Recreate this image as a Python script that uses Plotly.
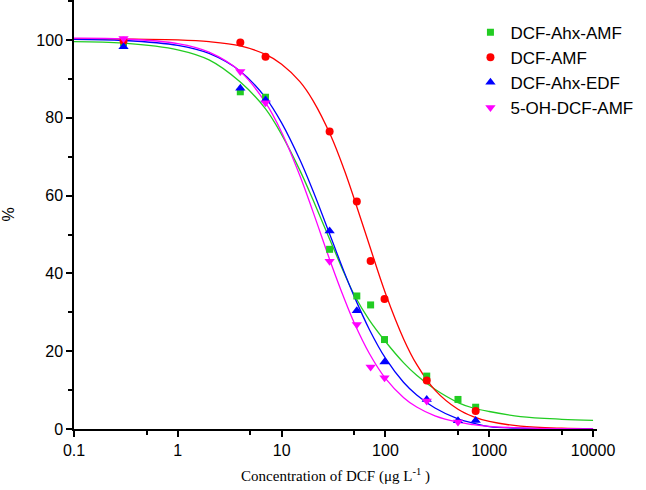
import plotly.graph_objects as go

# ---- measured data points ----
series_names = ["DCF-Ahx-AMF", "DCF-AMF", "DCF-Ahx-EDF", "5-OH-DCF-AMF"]
colors = ["#22cc22", "#ff0000", "#0000ff", "#ff00ff"]
symbols = ["square", "circle", "triangle-up", "triangle-down"]
sizes = [7, 8, 9, 9]

green_x = [0.3, 4, 7, 29, 53, 72, 98, 250, 500, 740]
green_y = [99.3, 86.7, 85.3, 46.2, 34.2, 31.9, 23.0, 13.6, 7.6, 5.6]

red_x = [0.3, 4, 7, 29, 53, 72, 98, 250, 740]
red_y = [99.8, 99.4, 95.7, 76.5, 58.5, 43.2, 33.4, 12.5, 4.6]

blue_x = [0.3, 4, 7, 29, 53, 98, 250, 500, 740]
blue_y = [98.3, 87.6, 84.6, 50.9, 30.4, 17.2, 7.6, 2.1, 2.2]

mag_x = [0.3, 4, 7, 29, 53, 72, 98, 250, 500]
mag_y = [100.4, 91.9, 83.9, 43.1, 26.9, 15.95, 13.2, 7.2, 1.8]

# ---- fitted curves at these concentrations ----
curve_x = [0.1, 0.3, 1, 2, 4, 7, 10, 15, 20, 30, 40, 50, 70, 100, 150, 200,
           300, 500, 700, 1000, 2000, 5000, 10000]
green_fit = [99.6, 99.2, 97.5, 94.9, 89.2, 82.3, 75.7, 66.5, 59.0, 47.9, 40.1,
             34.5, 28.0, 22.5, 17.0, 13.8, 10.2, 6.8, 5.4, 4.5, 3.2, 2.5, 2.2]
red_fit = [100.3, 100.25, 100.05, 99.6, 98.5, 96.3, 93.8, 89.3, 84.5, 75.2,
           66.7, 59.2, 47.3, 34.9, 23.1, 16.6, 10.0, 5.07, 3.19, 1.94, 0.73,
           0.2, 0.07]
blue_fit = [100.2, 99.9, 98.65, 96.56, 92.0, 85.2, 78.7, 69.2, 61.3, 49.1, 40.4,
            34.1, 25.6, 18.2, 11.95, 8.74, 5.4, 2.6, 1.5, 0.6, 0.2, 0.05, 0.0]
mag_fit = [100.5, 100.3, 99.1, 96.9, 91.9, 83.9, 76.3, 65.1, 55.95, 42.5, 33.6,
           27.3, 19.4, 13.0, 8.05, 5.64, 3.38, 1.74, 1.12, 0.70, 0.28, 0.08, 0.03]

xs = [green_x, red_x, blue_x, mag_x]
ys = [green_y, red_y, blue_y, mag_y]
fits = [green_fit, red_fit, blue_fit, mag_fit]

x_major = [0.1, 1, 10, 100, 1000, 10000]
x_major_text = ["0.1", "1", "10", "100", "1000", "10000"]
x_minor = [0.5, 5, 50, 500, 5000]
y_major = [0, 20, 40, 60, 80, 100]

fig = go.Figure()

for fit, col in zip(fits, colors):
    fig.add_trace(go.Scatter(x=curve_x, y=fit, mode="lines", line=dict(color=col, width=1.3, shape="spline"),
                             showlegend=False, hoverinfo="skip"))

for name, x, y, col, sym, sz in zip(series_names, xs, ys, colors, symbols, sizes):
    fig.add_trace(go.Scatter(x=x, y=y, mode="markers", name=name,
                             marker=dict(color=col, symbol=sym, size=sz, line=dict(width=0))))

fig.update_layout(
    width=646, height=490,
    margin=dict(l=64, r=49, t=0, b=61, pad=0),
    paper_bgcolor="white", plot_bgcolor="white",
    font=dict(family="Liberation Sans, Arial, sans-serif", size=16, color="black"),
    legend=dict(x=0.758, y=0.966, xanchor="left", yanchor="top",
                bgcolor="rgba(0,0,0,0)", font=dict(size=17), tracegroupgap=0),
    xaxis=dict(type="log", range=[-1, 4.038], showgrid=False, zeroline=False,
               showline=True, linecolor="black", linewidth=1.5,
               ticks="outside", ticklen=6, tickwidth=1.5, tickcolor="black",
               tickvals=x_major, ticktext=x_major_text,
               minor=dict(tickvals=x_minor, ticks="outside", ticklen=4, tickwidth=1.5, tickcolor="black"),
               title=dict(text="Concentration of DCF (μg L<sup>-1</sup> )",
                          font=dict(family="Liberation Serif, Times New Roman, serif", size=15), standoff=13)),
    yaxis=dict(range=[0, 110.3], showgrid=False, zeroline=False,
               showline=True, linecolor="black", linewidth=1.5,
               ticks="outside", ticklen=6, tickwidth=1.5, tickcolor="black",
               tickvals=y_major,
               minor=dict(dtick=10, ticks="outside", ticklen=4, tickwidth=1.5, tickcolor="black"),
               title=dict(text="%", font=dict(size=16), standoff=25)),
)

fig.write_html("out.html", config={"displayModeBar": False},
               post_script="document.body.style.margin='0';")
